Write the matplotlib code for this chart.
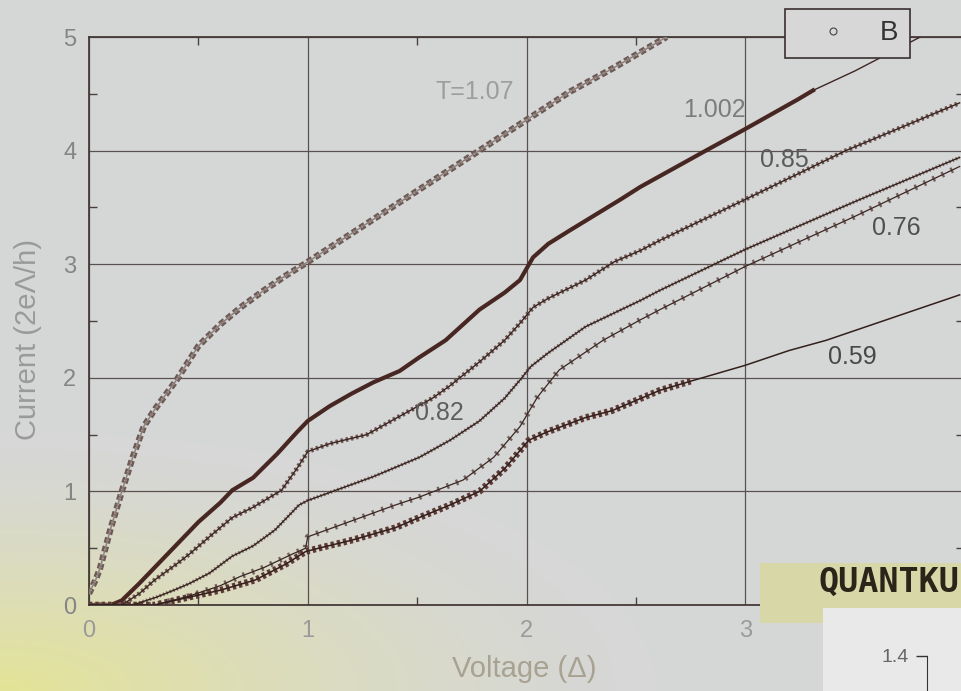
import numpy as np
import matplotlib.pyplot as plt
from matplotlib.lines import Line2D
from matplotlib.patches import Rectangle
from matplotlib.ticker import MultipleLocator

plt.rcParams['font.family'] = ['Liberation Sans', 'DejaVu Sans']

# I-V curves at several transmissions T: voltage in units of Delta, current in 2e*Delta/h
v_107 = [0.0, 0.03, 0.05, 0.1, 0.15, 0.2, 0.25, 0.3, 0.4, 0.5, 0.6, 0.7, 0.8, 0.9, 1.0,
         1.2, 1.4, 1.6, 1.8, 2.0, 2.2, 2.4, 2.64]
i_107 = [0.1, 0.22, 0.32, 0.68, 1.0, 1.3, 1.57, 1.72, 1.98, 2.28, 2.47, 2.63, 2.77, 2.9, 3.02,
         3.27, 3.52, 3.77, 4.02, 4.27, 4.52, 4.73, 5.0]

v_1002 = [0.0, 0.1, 0.15, 0.23, 0.3, 0.4, 0.5, 0.6, 0.655, 0.75, 0.86, 0.95, 1.0, 1.1, 1.2,
          1.3, 1.42, 1.51, 1.63, 1.785, 1.9, 1.97, 2.03, 2.1, 2.2, 2.43, 2.52, 2.82, 3.0,
          3.24, 3.31, 3.5, 3.8]
i_1002 = [0.0, 0.0, 0.04, 0.19, 0.33, 0.53, 0.73, 0.9, 1.01, 1.12, 1.33, 1.52, 1.62, 1.75, 1.86,
          1.96, 2.06, 2.18, 2.33, 2.6, 2.75, 2.86, 3.06, 3.18, 3.3, 3.57, 3.68, 4.0, 4.19,
          4.45, 4.53, 4.7, 5.0]

v_085 = [0.0, 0.15, 0.23, 0.3, 0.4, 0.46, 0.55, 0.655, 0.75, 0.88, 0.95, 1.0, 1.1, 1.27, 1.4,
         1.57, 1.65, 1.785, 1.9, 1.97, 2.03, 2.1, 2.27, 2.4, 2.52, 2.61, 3.0, 3.46, 3.98]
i_085 = [0.0, 0.0, 0.1, 0.22, 0.36, 0.45, 0.6, 0.77, 0.86, 1.01, 1.2, 1.35, 1.42, 1.5, 1.64,
         1.82, 1.93, 2.14, 2.33, 2.48, 2.62, 2.7, 2.86, 3.02, 3.12, 3.21, 3.57, 4.0, 4.42]

v_082 = [0.0, 0.2, 0.31, 0.4, 0.46, 0.55, 0.655, 0.75, 0.85, 0.96, 1.0, 1.1, 1.3, 1.51, 1.65,
         1.785, 1.9, 1.97, 2.02, 2.1, 2.27, 2.52, 2.61, 3.0, 3.5, 3.98]
i_082 = [0.0, 0.0, 0.07, 0.14, 0.19, 0.28, 0.43, 0.52, 0.66, 0.88, 0.92, 0.99, 1.13, 1.3, 1.45,
         1.62, 1.82, 1.98, 2.1, 2.22, 2.45, 2.68, 2.77, 3.13, 3.55, 3.94]

v_076 = [0.0, 0.3, 0.46, 0.6, 0.69, 0.8, 0.92, 0.99, 1.0, 1.2, 1.4, 1.51, 1.71, 1.85, 1.97,
         2.05, 2.15, 2.35, 2.52, 2.61, 3.0, 3.5, 3.98]
i_076 = [0.0, 0.0, 0.08, 0.17, 0.25, 0.33, 0.44, 0.5, 0.6, 0.74, 0.88, 0.95, 1.1, 1.3, 1.57,
         1.83, 2.07, 2.33, 2.51, 2.6, 2.98, 3.42, 3.86]

v_059 = [0.0, 0.3, 0.46, 0.6, 0.76, 0.9, 0.99, 1.05, 1.2, 1.4, 1.51, 1.65, 1.785, 1.9, 2.01,
         2.09, 2.27, 2.39, 2.61, 2.75, 3.0, 3.2, 3.37, 3.98]
i_059 = [0.0, 0.0, 0.07, 0.13, 0.22, 0.36, 0.47, 0.5, 0.57, 0.68, 0.77, 0.88, 1.0, 1.2, 1.45,
         1.52, 1.65, 1.71, 1.89, 1.97, 2.11, 2.24, 2.33, 2.73]

curve_labels = ['T=1.07', '1.002', '0.85', '0.82', '0.76', '0.59']
x_ticks = [0, 1, 2, 3]
y_ticks = [0, 1, 2, 3, 4, 5]

W, H = 961, 691
fig = plt.figure(figsize=(W / 100, H / 100), dpi=100)

# paper background with a yellowish haze in the lower left corner
bg = fig.add_axes([0, 0, 1, 1], zorder=-10)
yy, xx = np.mgrid[0:H, 0:W]
dist = np.hypot(xx / W * 1.1, (H - yy) / H * 2.0)
tint = np.clip(1 - dist / 0.75, 0, 1) ** 1.5
base = np.array([214, 215, 215]) / 255
yellow = np.array([228, 228, 150]) / 255
img = base * (1 - tint[..., None]) + yellow * tint[..., None]
bg.imshow(img, aspect='auto', extent=[0, 1, 0, 1])
bg.axis('off')

ax = fig.add_axes([89 / W, 86 / H, 875 / W, 568 / H])
ax.set_facecolor('none')


def draw_curve(v, i, color, lw, dash, fit_color, fit_lw=0.9, data_end=None):
    v = np.asarray(v)
    i = np.asarray(i)
    keep = v <= (data_end if data_end is not None else v.max())
    # measured points rendered as a dense hatched band
    ls = '-' if dash is None else (0, dash)
    ax.plot(v[keep], i[keep], color=color, lw=lw, ls=ls,
            dash_capstyle='butt', zorder=3)
    # fitted curve on top
    if fit_lw > 0:
        ax.plot(v, i, color=fit_color, lw=fit_lw, zorder=4)


draw_curve(v_107, i_107, '#6d5a55', 4.6, (0.9, 0.5), '#8d807c', 1.0)
draw_curve(v_107, i_107, '#c4bcb9', 1.6, (0.6, 0.8), '#c4bcb9', 0.0)
draw_curve(v_1002, i_1002, '#4a2520', 3.0, None, '#3f2622', 1.0, data_end=3.31)
draw_curve(v_1002, i_1002, '#6a4540', 1.2, (0.5, 0.7), '#3f2622', 0.0, data_end=3.31)
draw_curve(v_085, i_085, '#6e5450', 3.4, (0.5, 0.6), '#3a2420', 1.0)
draw_curve(v_082, i_082, '#7d6662', 2.6, (0.4, 0.6), '#33201c', 1.0)
draw_curve(v_076, i_076, '#74605c', 4.2, (0.4, 1.3), '#3a2622', 0.9)
draw_curve(v_059, i_059, '#5e3a35', 4.8, (0.5, 0.45), '#33201c', 1.1, data_end=2.75)

label_pos = [(1.765, 4.52), (2.86, 4.36), (3.18, 3.92), (1.6, 1.69), (3.69, 3.32), (3.49, 2.18)]
label_col = ['#9d9d9d', '#7c7c7c', '#5a5a5a', '#5e5e5e', '#505050', '#484848']
for text, (lx, ly), c in zip(curve_labels, label_pos, label_col):
    ax.text(lx, ly, text, fontsize=18, color=c, ha='center', va='center', zorder=5)

ax.set_xlim(0, 4)
ax.set_ylim(0, 5)
ax.set_xticks(x_ticks)
ax.set_yticks(y_ticks)
ax.xaxis.set_minor_locator(MultipleLocator(0.5))
ax.yaxis.set_minor_locator(MultipleLocator(0.5))
ax.grid(True, which='major', color='#5a5050', lw=0.9)
ax.tick_params(which='major', length=0, labelsize=17)
ax.tick_params(axis='x', which='major', pad=11, labelcolor='#9a9a9a')
ax.tick_params(axis='y', which='major', pad=9, labelcolor='#858585')
ax.tick_params(which='minor', direction='in', length=6, width=1, color='#4a4040',
               top=True, right=True)
for s in ax.spines.values():
    s.set_color('#453a38')
    s.set_linewidth(1.3)

ax.set_xlabel('Voltage (Δ)', fontsize=21, color='#a8a292')
ax.xaxis.set_label_coords(0.498, -0.088)
ax.set_ylabel('Current (2eΛ/h)', fontsize=21, color='#9a9a9a')
ax.yaxis.set_label_coords(-0.054, 0.467)

proxy = Line2D([], [], ls='none', marker='o', ms=5, mfc='none', mec='#4a4040', mew=0.8)
leg = ax.legend([proxy], ['B'], loc='center', bbox_to_anchor=(847.5 / W, 1 - 33.5 / H),
                bbox_transform=fig.transFigure, fontsize=20, fancybox=False,
                edgecolor='#3a3030', facecolor='#d6d7d6', framealpha=1, borderpad=0.4,
                handlelength=2.6, handletextpad=0.4, borderaxespad=0)
leg.get_frame().set_linewidth(1.2)
for t in leg.get_texts():
    t.set_color('#333333')

# overlapping sheet in the lower right corner
fig.add_artist(Rectangle((760 / W, (H - 623) / H), 201 / W, 60 / H, transform=fig.transFigure,
                         facecolor='#d8d7a8', edgecolor='none', zorder=5))
fig.text(818 / W, 1 - 592 / H, 'QUANTKU', family='DejaVu Sans Mono', weight='bold',
         fontsize=24, color='#2b2419', va='baseline', zorder=7)
fig.add_artist(Rectangle((823 / W, 0), 138 / W, 83 / H, transform=fig.transFigure,
                         facecolor='#e9e9e9', edgecolor='none', zorder=6))

ax2 = fig.add_axes([927 / W, 0, 30 / W, (H - 656) / H], zorder=8)
ax2.set_facecolor('none')
ax2.set_ylim(1.0, 1.4)
ax2.set_yticks([1.4])
ax2.set_xticks([])
for side in ['top', 'right', 'bottom']:
    ax2.spines[side].set_visible(False)
ax2.spines['left'].set_color('#333333')
ax2.tick_params(axis='y', length=8, width=1, pad=5, labelsize=14, labelcolor='#666666',
                color='#333333')

fig.savefig('out.png', dpi=100)
